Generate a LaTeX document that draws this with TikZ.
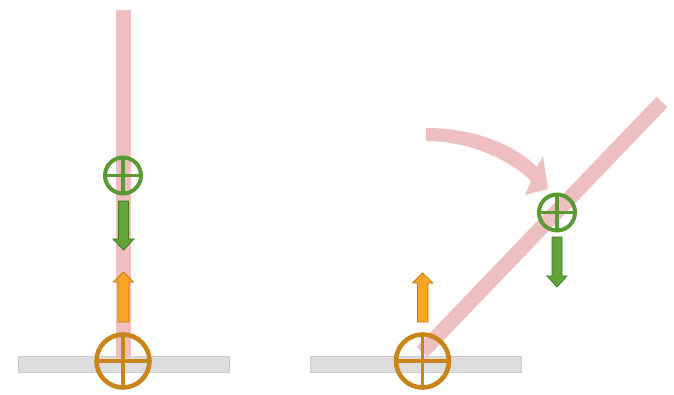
\documentclass[tikz,border=0pt]{standalone}
\begin{document}
\begin{tikzpicture}[x=1pt,y=-1pt,
  pinkbar/.style={draw=none,fill=barpink},
  floorbar/.style={draw=floorline,line width=0.8pt,fill=floorgrey},
  joint/.style={circle,draw=#1,line width=4.6pt,inner sep=0pt,
    path picture={\draw[#1,line width=3.6pt]
      (path picture bounding box.north)--(path picture bounding box.south)
      (path picture bounding box.west)--(path picture bounding box.east);}},
  bigjoint/.style={joint=jointorange,minimum size=53pt},
  smalljoint/.style={joint=jointgreen,line width=4pt,minimum size=36pt},
  forcedown/.style={fill=greenfill,draw=greenline,line width=0.8pt,line join=miter},
  forceup/.style={fill=orangefill,draw=orangeline,line width=0.8pt,line join=miter}
]
\definecolor{barpink}{HTML}{EDBFBF}
\definecolor{floorgrey}{HTML}{DDDDDD}
\definecolor{floorline}{HTML}{CDCDCD}
\definecolor{jointorange}{HTML}{C8861A}
\definecolor{jointgreen}{HTML}{5A9A35}
\definecolor{greenfill}{HTML}{62A33A}
\definecolor{greenline}{HTML}{3F7A23}
\definecolor{orangefill}{HTML}{F6A623}
\definecolor{orangeline}{HTML}{C07C10}
\useasboundingbox (0,0) rectangle (674,394);

% ---------- left ----------
\draw[floorbar] (18,356) rectangle (229,372);
\fill[barpink] (116,10) rectangle (131,358);
\node[bigjoint] (oL) at (123,361) {};
\node[smalljoint] (gL) at (123,175.5) {};
\draw[forcedown] (118.5,201) -- (128.5,201) -- (128.5,239) -- (134,239) -- (123.5,250)
  -- (113,239) -- (118.5,239) -- cycle;
\draw[forceup] (118,322) -- (129,322) -- (129,282) -- (133.5,282) -- (123.5,272)
  -- (113.5,282) -- (118,282) -- cycle;

% ---------- right ----------
\draw[floorbar] (310,356) rectangle (521,372);
\coordinate (b0) at (422,352);
\coordinate (b1) at (662,102);
\draw[barpink,line width=15pt] (b0) -- (b1);
\node[bigjoint] (oR) at (422.5,361) {};
\node[smalljoint] (gR) at (557,212.5) {};
\draw[forcedown] (552,237) -- (562,237) -- (562,276) -- (567,276) -- (557,287)
  -- (547,276) -- (552,276) -- cycle;
\draw[forceup] (417.5,322) -- (428,322) -- (428,283) -- (433,283) -- (422.5,273)
  -- (412.5,283) -- (417.5,283) -- cycle;
% curved rotation arrow
\fill[barpink] (426,128) .. controls (475,128) and (515,145) .. (537,167)
  -- (543,156) -- (548,189) -- (525,195) -- (531,181)
  .. controls (510,160) and (470,141) .. (426,141) -- cycle;
\end{tikzpicture}
\end{document}
